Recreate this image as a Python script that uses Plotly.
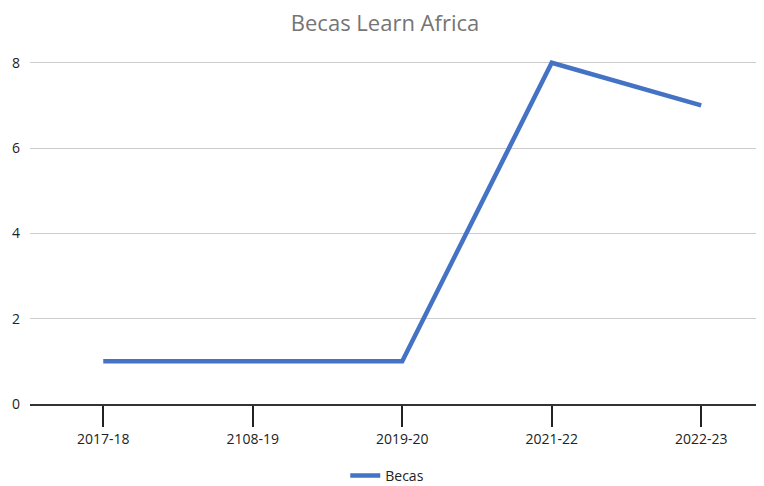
import plotly.graph_objects as go

categories = ["2017-18", "2108-19", "2019-20", "2021-22", "2022-23"]
becas = [1, 1, 1, 8, 7]
y_ticks = [0, 2, 4, 6, 8]

fig = go.Figure()
fig.add_trace(go.Scatter(
    x=categories, y=becas, mode="lines", name="Becas",
    line=dict(color="#4472C4", width=4.5),
))

# The page has an 8px default body margin, so the figure is sized to fit.
fig.update_layout(
    width=756, height=478,
    margin=dict(l=21.5, r=0, t=42, b=82, autoexpand=False),
    paper_bgcolor="white", plot_bgcolor="white",
    font=dict(family="Open Sans", size=14, color="#222222"),
    title=dict(text="Becas Learn Africa", x=0.4987, xanchor="center",
               y=1 - 15 / 478, yanchor="middle", yref="container",
               font=dict(size=22, color="#757575", family="Open Sans")),
    showlegend=True,
    legend=dict(orientation="h", x=0.4295, xanchor="left", y=-0.158, yanchor="top",
                font=dict(size=14, color="#222222"), itemwidth=30),
)
fig.update_xaxes(
    type="category", range=[-0.49, 4.42], automargin=False,
    showgrid=False, showline=True, linecolor="#333333", linewidth=1.5,
    ticks="outside", ticklen=21, tickwidth=1.5, tickcolor="#222222",
    zeroline=False, fixedrange=True, tickfont=dict(size=14),
)
fig.update_yaxes(
    range=[0, 8.3], tickvals=y_ticks, ticktext=[str(v) for v in y_ticks],
    showgrid=True, gridcolor="#cccccc", gridwidth=1, automargin=False,
    zeroline=False, showline=False, ticks="", ticklabelstandoff=9,
    fixedrange=True, tickfont=dict(size=14),
)

fig.write_html("out.html")
